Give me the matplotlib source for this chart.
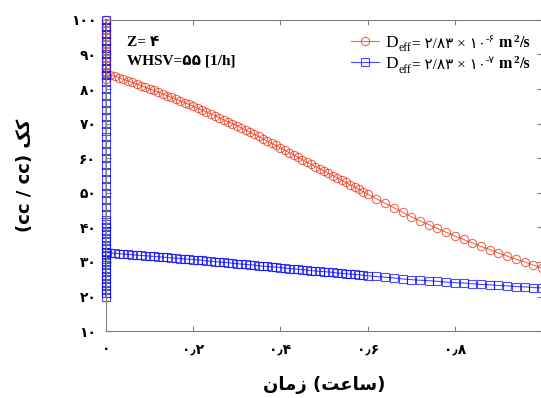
import numpy as np
import matplotlib
matplotlib.use('Agg')
import matplotlib.pyplot as plt

# ---- data (solver steps are finer before t = 0.6 h) ----
time_h = [0.00, 0.01, 0.02, 0.03, 0.04, 0.05, 0.06, 0.07, 0.08, 0.09,
          0.10, 0.11, 0.12, 0.13, 0.14, 0.15, 0.16, 0.17, 0.18, 0.19,
          0.20, 0.21, 0.22, 0.23, 0.24, 0.25, 0.26, 0.27, 0.28, 0.29,
          0.30, 0.31, 0.32, 0.33, 0.34, 0.35, 0.36, 0.37, 0.38, 0.39,
          0.40, 0.41, 0.42, 0.43, 0.44, 0.45, 0.46, 0.47, 0.48, 0.49,
          0.50, 0.51, 0.52, 0.53, 0.54, 0.55, 0.56, 0.57, 0.58, 0.59,
          0.60, 0.62, 0.64, 0.66, 0.68, 0.70, 0.72, 0.74, 0.76, 0.78,
          0.80, 0.82, 0.84, 0.86, 0.88, 0.90, 0.92, 0.94, 0.96, 0.98, 1.00]

red_conc = [84.6, 84.2, 83.7, 83.3, 82.8, 82.4, 81.9, 81.5, 81.0, 80.5,
            80.0, 79.6, 79.1, 78.6, 78.1, 77.6, 77.1, 76.6, 76.1, 75.6,
            75.0, 74.5, 73.9, 73.4, 72.8, 72.3, 71.7, 71.1, 70.5, 70.0,
            69.4, 68.8, 68.2, 67.5, 66.9, 66.3, 65.6, 65.0, 64.3, 63.7,
            63.0, 62.3, 61.6, 61.0, 60.3, 59.6, 58.9, 58.3, 57.6, 57.0,
            56.3, 55.6, 55.0, 54.3, 53.7, 53.0, 52.3, 51.7, 51.0, 50.3,
            49.6, 48.3, 47.0, 45.7, 44.4, 43.1, 41.9, 40.8, 39.7, 38.6,
            37.5, 36.5, 35.5, 34.5, 33.6, 32.6, 31.7, 30.8, 30.0, 29.1, 28.2]

blue_conc = [32.8, 32.6, 32.5, 32.4, 32.3, 32.2, 32.1, 32.0, 31.9, 31.8,
             31.7, 31.6, 31.5, 31.4, 31.3, 31.2, 31.1, 31.0, 30.9, 30.8,
             30.7, 30.6, 30.5, 30.3, 30.2, 30.1, 30.0, 29.9, 29.8, 29.6,
             29.5, 29.4, 29.3, 29.2, 29.1, 28.9, 28.8, 28.7, 28.6, 28.5,
             28.4, 28.2, 28.1, 28.0, 27.9, 27.8, 27.7, 27.5, 27.4, 27.3,
             27.2, 27.1, 27.0, 26.8, 26.7, 26.6, 26.5, 26.4, 26.3, 26.1,
             26.0, 25.8, 25.6, 25.4, 25.1, 24.9, 24.7, 24.6, 24.4, 24.2,
             24.0, 23.9, 23.7, 23.5, 23.4, 23.2, 23.1, 22.9, 22.8, 22.6, 22.5]

# initial transient stacked at t = 0
red_spike = [100, 99, 98, 97, 96, 95, 94, 93, 92, 91, 90, 89, 88, 87, 86, 85, 84, 83]
blue_spike = [100, 98, 96, 94, 92, 90, 88, 86, 84, 82, 80, 78, 76, 74, 72, 70,
              68, 66, 64, 62, 60, 58, 56, 54, 52, 50, 48, 46, 44, 42, 41, 40,
              39, 38, 37, 36, 35, 34, 33, 32, 31, 30, 29, 28, 27, 26, 25, 24,
              23, 22, 21, 20]

x_ticks = [0, 0.2, 0.4, 0.6, 0.8, 1.0]
x_ticklabels = ['۰', '۰٫۲', '۰٫۴', '۰٫۶', '۰٫۸', '۱']
y_ticks = [10, 20, 30, 40, 50, 60, 70, 80, 90, 100]
y_ticklabels = ['۱۰', '۲۰', '۳۰', '۴۰', '۵۰', '۶۰', '۷۰', '۸۰', '۹۰', '۱۰۰']

# Persian labels in visual order (presentation forms)
x_label = '\uFEE5\uFE8E\uFEE3\uFEAF (\uFE96\uFECB\uFE8E\uFEB3)'
y_label = '(cc / cc) \uFB8F\uFB90'

SERIF = ['Liberation Serif', 'DejaVu Sans']
RED = '#e2300f'
BLUE = '#0000ff'

fig = plt.figure(figsize=(5.41, 3.98), dpi=100)
ax = fig.add_axes([0.196, 0.168, 0.806, 0.782])

red_x = [0.0] * len(red_spike) + time_h
red_y = red_spike + red_conc
blue_x = [0.0] * len(blue_spike) + time_h
blue_y = blue_spike + blue_conc

ax.plot(red_x, red_y, color=RED, lw=0.8, marker='o', ms=6, mfc='none',
        mec=RED, mew=0.8, alpha=0.7, clip_on=False, label='D')
ax.plot(blue_x, blue_y, color=BLUE, lw=0.8, marker='s', ms=5.5, mfc='none',
        mec=BLUE, mew=0.8, alpha=0.7, clip_on=False, label='D')

ax.set_xlim(0, 1)
ax.set_ylim(10, 100)
ax.set_xticks(x_ticks)
ax.set_xticklabels(x_ticklabels, family='DejaVu Sans', fontweight='bold', fontsize=10)
ax.set_yticks(y_ticks)
ax.set_yticklabels(y_ticklabels, family='DejaVu Sans', fontweight='bold', fontsize=10)
ax.tick_params(direction='in', length=3.5, color='#808080', top=True, right=True)
ax.tick_params(axis='x', pad=8)
ax.tick_params(axis='y', pad=7)
for s in ax.spines.values():
    s.set_color('#808080')
    s.set_linewidth(0.8)

ax.set_xlabel(x_label, family='DejaVu Sans', fontweight='bold', fontsize=13, va='center')
ax.xaxis.set_label_coords(0.5, -0.174)
ax.set_ylabel(y_label, family='DejaVu Sans', fontweight='bold', fontsize=13, va='center')
ax.yaxis.set_label_coords(-0.186, 0.5)

ax.text(0.048, 0.927, 'Z= ۴', transform=ax.transAxes, family=SERIF,
        fontweight='bold', fontsize=11, va='center')
ax.text(0.048, 0.868, 'WHSV=۵۵ [1/h]', transform=ax.transAxes, family=SERIF,
        fontweight='bold', fontsize=11, va='center')

leg = ax.legend(loc='upper left', bbox_to_anchor=(0.562, 0.952), frameon=False,
                borderpad=0, borderaxespad=0, handlelength=1.6, handletextpad=0.4,
                labelspacing=0.3, numpoints=1,
                prop={'family': 'Liberation Serif', 'size': 12.5})


def chain(anchor, pieces):
    prev, prev_dy = anchor, 0
    for s, size, weight, dy in pieces:
        prev = ax.annotate(s, xy=(1, 0), xycoords=prev, xytext=(0.2, dy - prev_dy),
                           textcoords='offset points', fontsize=size, fontweight=weight,
                           family=SERIF, va='bottom', ha='left', zorder=10,
                           annotation_clip=False)
        prev_dy = dy


for txt, expo in zip(leg.get_texts(), ['-۶', '-۷']):
    chain(txt, [('eff', 8.5, 'normal', -2.5),
                ('= ۲/۸۳ × ۱۰', 11, 'normal', 0),
                (expo, 7.5, 'normal', 5),
                (' m', 11.5, 'bold', 0),
                ('2', 8, 'bold', 5),
                ('/s', 11.5, 'bold', 0)])

fig.savefig('out.png', dpi=100)
